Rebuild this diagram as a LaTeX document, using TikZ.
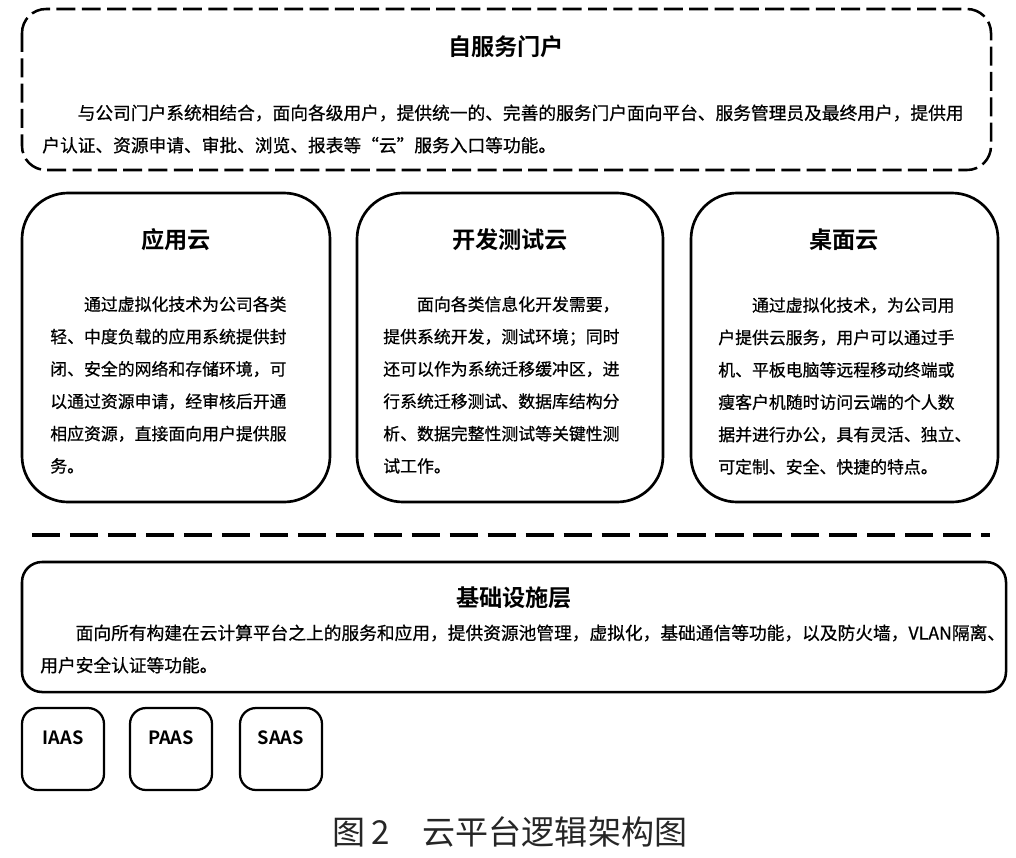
\documentclass[tikz,border=0pt]{standalone}
\usepackage{fontspec}
\setmainfont{Noto Sans CJK SC}[BoldFont={Noto Sans CJK SC Bold}]
\newfontfamily\bodyfont{Noto Sans CJK SC}[FakeBold=0.7]

\begin{document}
\begin{tikzpicture}[x=0.025cm, y=-0.025cm,
    portalbox/.style={line width=1.8pt, dash pattern=on 13.5pt off 4.5pt, rounded corners=0.6cm},
    cloudbox/.style={line width=1.9pt, rounded corners=1.15cm},
    layerbox/.style={line width=1.8pt, rounded corners=0.5cm},
    svcbox/.style={line width=1.6pt, rounded corners=0.4cm},
    sepline/.style={line width=2.8pt, dash pattern=on 20pt off 7pt},
    boxtitle/.style={inner sep=0pt, font=\fontsize{16.5pt}{18pt}\selectfont\bfseries},
    boxtext/.style={align=left, inner sep=0pt, anchor=west, font=\bodyfont\fontsize{12pt}{23pt}\selectfont},
    svclabel/.style={inner sep=0pt, font=\fontsize{13pt}{15pt}\selectfont\bfseries}]
    \useasboundingbox (0,0) rectangle (1016,857);

    % self-service portal
    \draw[portalbox] (22,9) rectangle (991,170);
    \node[boxtitle] (portal) at (506,47) {自服务门户};
    \node[boxtext, font=\bodyfont\fontsize{12.6pt}{23pt}\selectfont] (portaltext) at (42,129)
        {　　与公司门户系统相结合，面向各级用户，提供统一的、完善的服务门户面向平台、服务管理员及最终用户，提供用\\
         户认证、资源申请、审批、浏览、报表等“云”服务入口等功能。};

    % three clouds
    \draw[cloudbox] (22,193) rectangle (330,502);
    \node[boxtitle] (appcloud) at (176,240) {应用云};
    \node[boxtext] (apptext) at (50,385)
        {　　通过虚拟化技术为公司各类\\
         轻、中度负载的应用系统提供封\\
         闭、安全的网络和存储环境，可\\
         以通过资源申请，经审核后开通\\
         相应资源，直接面向用户提供服\\
         务。};

    \draw[cloudbox] (357,193) rectangle (663,502);
    \node[boxtitle] (devcloud) at (510,240) {开发测试云};
    \node[boxtext] (devtext) at (383,385)
        {　　面向各类信息化开发需要，\\
         提供系统开发，测试环境；同时\\
         还可以作为系统迁移缓冲区，进\\
         行系统迁移测试、数据库结构分\\
         析、数据完整性测试等关键性测\\
         试工作。};

    \draw[cloudbox] (691,193) rectangle (998,502);
    \node[boxtitle] (deskcloud) at (844,240) {桌面云};
    \node[boxtext] (desktext) at (718,386)
        {　　通过虚拟化技术，为公司用\\
         户提供云服务，用户可以通过手\\
         机、平板电脑等远程移动终端或\\
         瘦客户机随时访问云端的个人数\\
         据并进行办公，具有灵活、独立、\\
         可定制、安全、快捷的特点。};

    \coordinate (sepL) at (32,535);
    \coordinate (sepR) at (990,535);
    \draw[sepline] (sepL) -- (sepR);

    % infrastructure layer
    \draw[layerbox] (22,562) rectangle (1006,692);
    \node[boxtitle] (infra) at (514,598) {基础设施层};
    \node[boxtext, font=\bodyfont\fontsize{12.6pt}{23pt}\selectfont] (infratext) at (40,649)
        {　　面向所有构建在云计算平台之上的服务和应用，提供资源池管理，虚拟化，基础通信等功能，以及防火墙，VLAN隔离、\\
         用户安全认证等功能。};

    \foreach \x/\svc in {22/IAAS, 130/PAAS, 240/SAAS}{
        \draw[svcbox] (\x,708) rectangle ({\x+82},790);
        \node[svclabel] (\svc) at ({\x+41},738) {\svc};
    }

    \node[inner sep=0pt, text=black!85, font=\fontsize{23.5pt}{28pt}\selectfont] (caption) at (510,832)
        {图\,2\quad 云平台逻辑架构图};
\end{tikzpicture}
\end{document}
